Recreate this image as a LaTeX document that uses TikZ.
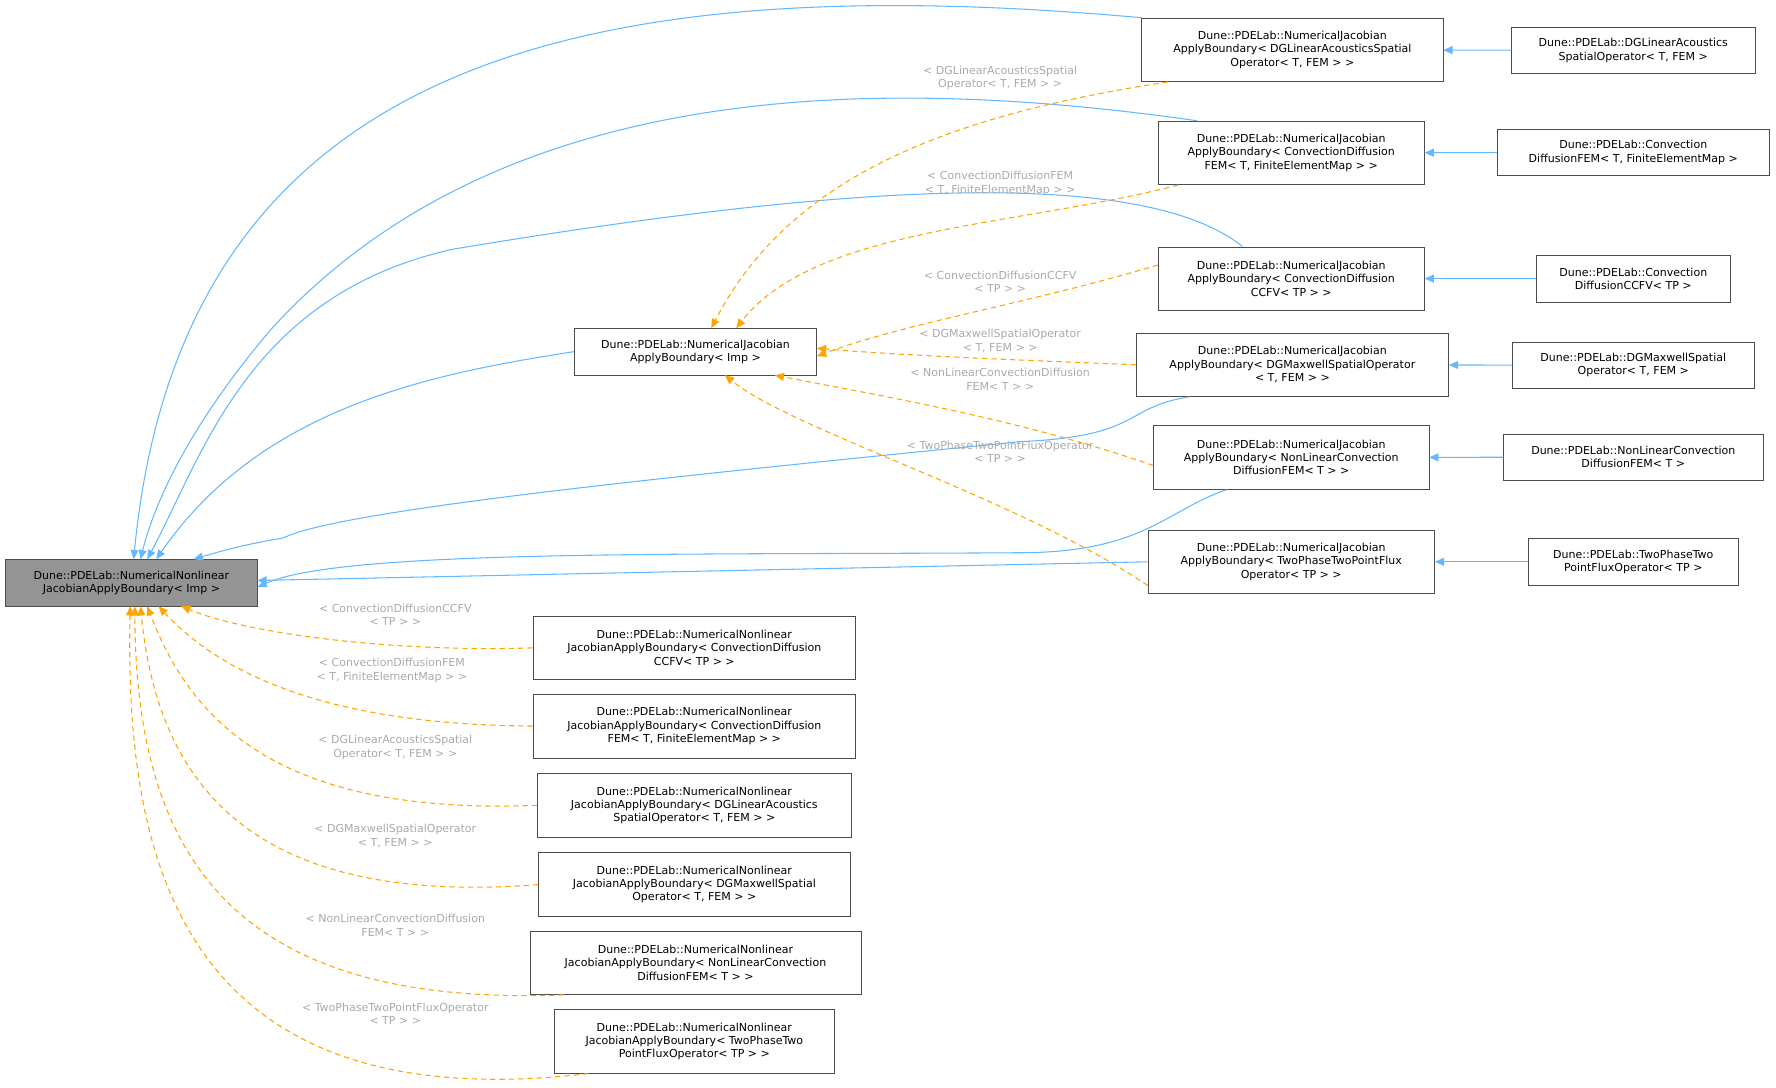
\documentclass[tikz,border=0pt]{standalone}
\usepackage{fontspec}
\setmainfont{DejaVu Sans}
\usetikzlibrary{arrows.meta}
\definecolor{eblue}{HTML}{63B8FF}
\definecolor{eorange}{HTML}{FFA500}
\definecolor{lgray}{HTML}{AAAAAA}
\begin{document}
\begin{tikzpicture}[x=0.03cm,y=-0.03cm,
  box/.style={draw=black!70,fill=white,align=center,font=\fontsize{8.3}{10}\selectfont,inner sep=0pt,minimum height=#1},
  box/.default=35,
  inh/.style={eblue,line width=0.8pt,-{Triangle[length=7pt,width=6pt]}},
  tpl/.style={eorange,line width=0.8pt,dash pattern=on 4pt off 3pt,-{Triangle[length=7pt,width=6pt]}},
  lab/.style={text=lgray,align=center,font=\fontsize{8.3}{10}\selectfont}]
\useasboundingbox (0,0) rectangle (1568,960);
\node[box,fill=black!42,minimum width=222*0.03cm] (A) at (116,514.5) {Dune::PDELab::NumericalNonlinear\\JacobianApplyBoundary< Imp >};
\node[box,minimum width=214*0.03cm] (B) at (614,310.5) {Dune::PDELab::NumericalJacobian\\ApplyBoundary< Imp >};
\node[box=48,minimum width=266*0.03cm] (J1) at (1141,44) {Dune::PDELab::NumericalJacobian\\ApplyBoundary< DGLinearAcousticsSpatial\\Operator< T, FEM > >};
\node[box=48,minimum width=235*0.03cm] (J2) at (1140,135) {Dune::PDELab::NumericalJacobian\\ApplyBoundary< ConvectionDiffusion\\FEM< T, FiniteElementMap > >};
\node[box=48,minimum width=235*0.03cm] (J3) at (1140,246) {Dune::PDELab::NumericalJacobian\\ApplyBoundary< ConvectionDiffusion\\CCFV< TP > >};
\node[box=48,minimum width=276*0.03cm] (J4) at (1141,322) {Dune::PDELab::NumericalJacobian\\ApplyBoundary< DGMaxwellSpatialOperator\\< T, FEM > >};
\node[box=48,minimum width=243*0.03cm] (J5) at (1140,404) {Dune::PDELab::NumericalJacobian\\ApplyBoundary< NonLinearConvection\\DiffusionFEM< T > >};
\node[box=48,minimum width=253*0.03cm] (J6) at (1140,496) {Dune::PDELab::NumericalJacobian\\ApplyBoundary< TwoPhaseTwoPointFlux\\Operator< TP > >};
\node[box,minimum width=215*0.03cm] (R1) at (1442,44.5) {Dune::PDELab::DGLinearAcoustics\\SpatialOperator< T, FEM >};
\node[box,minimum width=240*0.03cm] (R2) at (1442,134.5) {Dune::PDELab::Convection\\DiffusionFEM< T, FiniteElementMap >};
\node[box,minimum width=171*0.03cm] (R3) at (1442,246) {Dune::PDELab::Convection\\DiffusionCCFV< TP >};
\node[box,minimum width=213*0.03cm] (R4) at (1442,322.5) {Dune::PDELab::DGMaxwellSpatial\\Operator< T, FEM >};
\node[box,minimum width=229*0.03cm] (R5) at (1442,403.5) {Dune::PDELab::NonLinearConvection\\DiffusionFEM< T >};
\node[box,minimum width=185*0.03cm] (R6) at (1442,496) {Dune::PDELab::TwoPhaseTwo\\PointFluxOperator< TP >};
\node[box=48,minimum width=285*0.03cm] (N1) at (613,572) {Dune::PDELab::NumericalNonlinear\\JacobianApplyBoundary< ConvectionDiffusion\\CCFV< TP > >};
\node[box=48,minimum width=285*0.03cm] (N2) at (613,641) {Dune::PDELab::NumericalNonlinear\\JacobianApplyBoundary< ConvectionDiffusion\\FEM< T, FiniteElementMap > >};
\node[box=48,minimum width=277*0.03cm] (N3) at (613,711) {Dune::PDELab::NumericalNonlinear\\JacobianApplyBoundary< DGLinearAcoustics\\SpatialOperator< T, FEM > >};
\node[box=48,minimum width=275*0.03cm] (N4) at (613,781) {Dune::PDELab::NumericalNonlinear\\JacobianApplyBoundary< DGMaxwellSpatial\\Operator< T, FEM > >};
\node[box=48,minimum width=292*0.03cm] (N5) at (614,850) {Dune::PDELab::NumericalNonlinear\\JacobianApplyBoundary< NonLinearConvection\\DiffusionFEM< T > >};
\node[box=48,minimum width=247*0.03cm] (N6) at (613,919.5) {Dune::PDELab::NumericalNonlinear\\JacobianApplyBoundary< TwoPhaseTwo\\PointFluxOperator< TP > >};
% right inheritance
\foreach \i in {1,...,6} \draw[inh] (R\i) -- (J\i);
% blue to A
\draw[inh] (J1.north west) .. controls (500,-30) and (160,60) .. (A.north-|118,0);
\draw[inh] ([xshift=-83*0.03cm]J2.north) .. controls (800,70) and (450,60) .. (240,290) .. controls (180,360) and (140,430) .. ([xshift=8*0.03cm]A.north);
\draw[inh] ([xshift=-43*0.03cm]J3.north) .. controls (1000,140) and (700,170) .. (400,220) .. controls (220,260) and (180,400) .. ([xshift=14*0.03cm]A.north);
\draw[inh] (B.west) .. controls (380,330) and (230,360) .. ([xshift=22*0.03cm]A.north);
\draw[inh] ([xshift=-91*0.03cm]J4.south) .. controls (990,360) and (1010,385) .. (900,390) .. controls (600,420) and (300,450) .. (250,475) .. controls (220,480) and (200,485) .. ([xshift=55*0.03cm]A.north);
\draw[inh] ([xshift=-57*0.03cm]J5.south) .. controls (1030,450) and (1010,488) .. (900,488) .. controls (600,490) and (300,485) .. ([yshift=-4*0.03cm]A.east);
\draw[inh] (J6.west) -- ([yshift=2*0.03cm]A.east);
% orange to B
\draw[tpl] ([xshift=-110*0.03cm]J1.south) .. controls (850,100) and (700,150) .. ([xshift=14*0.03cm]B.north);
\draw[tpl] ([xshift=-100*0.03cm]J2.south) .. controls (900,200) and (720,200) .. ([xshift=36*0.03cm]B.north);
\draw[tpl] ([yshift=12*0.03cm]J3.west) .. controls (900,270) and (800,285) .. ([yshift=-4*0.03cm]B.east);
\draw[tpl] (J4.west) .. controls (900,318) and (800,314) .. ([yshift=3*0.03cm]B.east);
\draw[tpl] ([yshift=-7*0.03cm]J5.west) .. controls (900,370) and (780,350) .. ([xshift=70*0.03cm]B.south);
\draw[tpl] ([yshift=-21*0.03cm]J6.west) .. controls (900,440) and (700,380) .. ([xshift=26*0.03cm]B.south);
\node[lab] at (883,69) {< DGLinearAcousticsSpatial\\Operator< T, FEM > >};
\node[lab] at (883,162) {< ConvectionDiffusionFEM\\< T, FiniteElementMap > >};
\node[lab] at (883,249) {< ConvectionDiffusionCCFV\\< TP > >};
\node[lab] at (883,301) {< DGMaxwellSpatialOperator\\< T, FEM > >};
\node[lab] at (883,335) {< NonLinearConvectionDiffusion\\FEM< T > >};
\node[lab] at (883,399) {< TwoPhaseTwoPointFluxOperator\\< TP > >};
% orange to A
\draw[tpl] (N1.west) .. controls (350,576) and (220,560) .. ([xshift=44*0.03cm]A.south);
\draw[tpl] (N2.west) .. controls (300,640) and (200,600) .. ([xshift=24*0.03cm]A.south);
\draw[tpl] (N3.west) .. controls (250,720) and (170,640) .. ([xshift=14*0.03cm]A.south);
\draw[tpl] (N4.west) .. controls (230,800) and (140,700) .. ([xshift=8*0.03cm]A.south);
\draw[tpl] ([xshift=30*0.03cm]N5.south west) .. controls (200,890) and (120,750) .. ([xshift=3*0.03cm]A.south);
\draw[tpl] ([xshift=30*0.03cm]N6.south west) .. controls (160,990) and (110,760) .. ([xshift=-1*0.03cm]A.south);
\node[lab] at (349,543) {< ConvectionDiffusionCCFV\\< TP > >};
\node[lab] at (346,592) {< ConvectionDiffusionFEM\\< T, FiniteElementMap > >};
\node[lab] at (349,660) {< DGLinearAcousticsSpatial\\Operator< T, FEM > >};
\node[lab] at (349,738) {< DGMaxwellSpatialOperator\\< T, FEM > >};
\node[lab] at (349,817) {< NonLinearConvectionDiffusion\\FEM< T > >};
\node[lab] at (349,895) {< TwoPhaseTwoPointFluxOperator\\< TP > >};
\end{tikzpicture}
\end{document}
